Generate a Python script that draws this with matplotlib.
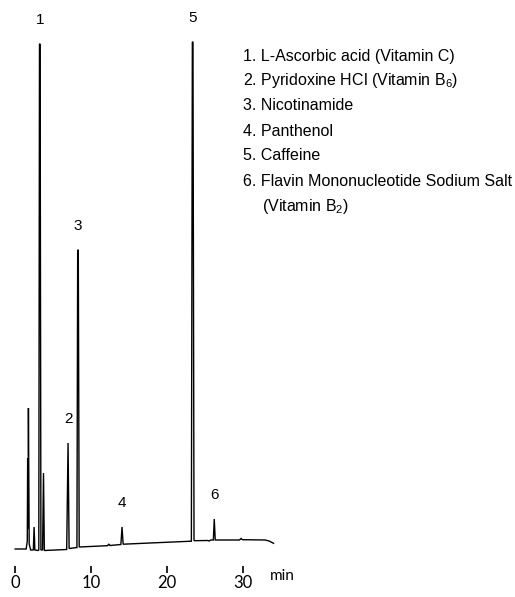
import matplotlib
matplotlib.use("Agg")
import matplotlib.pyplot as plt

plt.rcParams['font.family'] = ['Liberation Sans', 'DejaVu Sans']
plt.rcParams['mathtext.fontset'] = 'custom'
plt.rcParams['mathtext.rm'] = 'Liberation Sans'
plt.rcParams['mathtext.it'] = 'Liberation Sans:italic'

# chromatogram trace vertices (time in min, signal in arbitrary units)
trace_t = [0.0, 1.45, 1.6, 1.65, 1.70, 1.75, 1.85, 2.05, 2.4, 2.5, 2.6, 3.0, 3.12,
           3.21, 3.29, 3.4, 3.62, 3.74, 3.85, 6.8, 6.98, 7.12, 8.15, 8.25, 8.33, 8.45,
           12.2, 12.35, 12.5, 13.95, 14.1, 14.25, 17.8, 23.25, 23.38, 23.46, 23.6,
           25.4, 25.6, 25.8, 26.15, 26.27, 26.4, 29.6, 29.8, 30.0, 33.0, 33.5, 34.1]
trace_y = [0.0, 0.0, 8, 91, 20, 141, 5, -1, -1, 22, -1, -1.5, -1,
           505, 505, -1, -1, 76, -1.5, -0.5, 106, 0.5, 1.5, 299, 299, 2,
           3.3, 5, 3.5, 4.5, 22, 4.8, 6, 7.8, 507, 507, 8.3,
           8.5, 8, 9, 9, 30, 9, 9, 10.5, 9.3, 9, 8, 5.7]

# labelled peaks
peak_ids = ['1', '2', '3', '4', '5', '6']
peak_times = [3.25, 6.98, 8.29, 14.1, 23.42, 26.3]
peak_heights = [505, 106, 299, 22, 507, 30]

compounds = [
    '1. L-Ascorbic acid (Vitamin C)',
    '2. Pyridoxine HCl (Vitamin B$_\\mathregular{6}$)',
    '3. Nicotinamide',
    '4. Panthenol',
    '5. Caffeine',
    '6. Flavin Mononucleotide Sodium Salt',
    '(Vitamin B$_\\mathregular{2}$)',
]

xticks = [0, 10, 20, 30]

W, H = 515, 597
fig = plt.figure(figsize=(W / 100, H / 100), dpi=100)
ax = fig.add_axes([0, 31 / H, 288 / W, 566 / H])

ax.plot(trace_t, trace_y, color='black', lw=1.0, solid_joinstyle='miter')

for pid, pt, ph in zip(peak_ids, peak_times, peak_heights):
    ax.text(pt, ph + 24, pid, ha='center', va='center', fontsize=11)

ax.set_xlim(-2, 36)
ax.set_ylim(-17, 549)
for side in ['left', 'right', 'top', 'bottom']:
    ax.spines[side].set_visible(False)
ax.set_yticks([])
ax.set_xticks(xticks)
ax.tick_params(axis='x', which='major', bottom=True, direction='out', length=5,
               width=1.3, color='#111111', pad=1.5, labelsize=12)
for lab in ax.get_xticklabels():
    lab.set_family(['Lato', 'DejaVu Sans'])
ax.text(35.2, -20, 'min', ha='center', va='top', fontsize=11,
        family=['Lato', 'DejaVu Sans'])

# compound list
for i, txt in enumerate(compounds):
    x = 262 if i == 6 else 243
    y = 56 + 25 * i
    fig.text(x / W, 1 - y / H, txt, ha='left', va='center', fontsize=11.5)

fig.savefig('out.png', dpi=100)
